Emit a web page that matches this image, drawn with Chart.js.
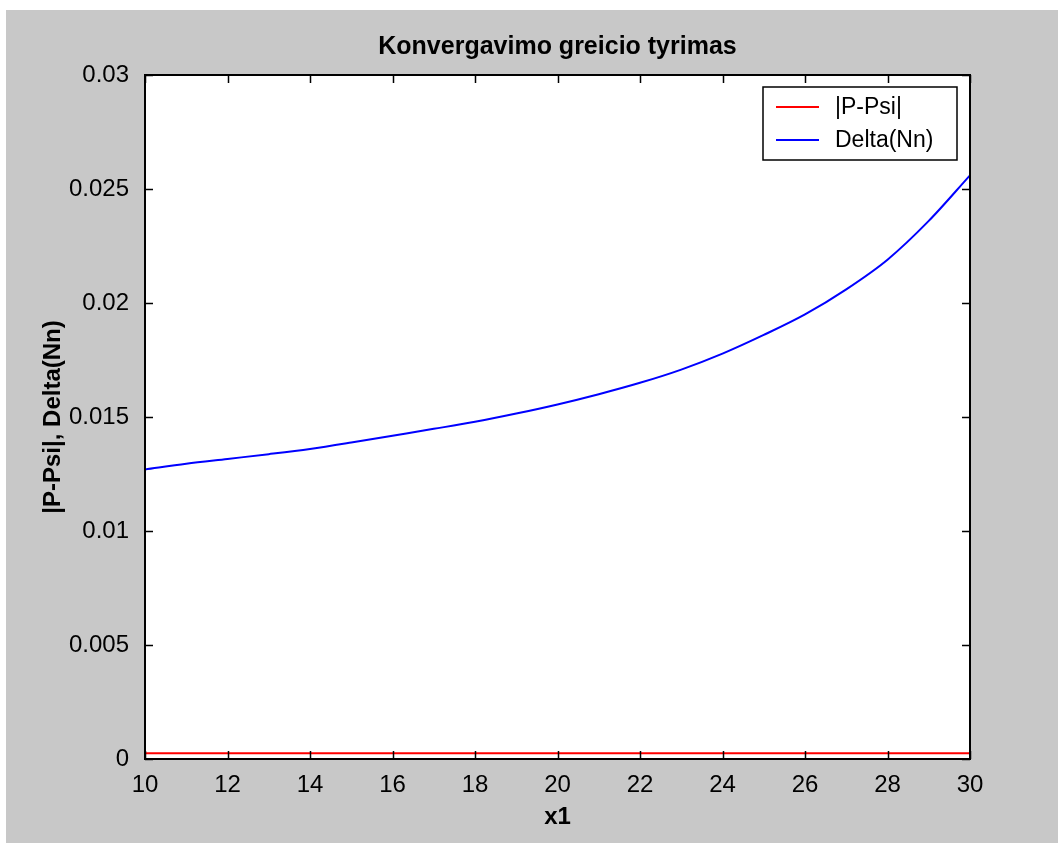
<!DOCTYPE html>
<html>
<head>
<meta charset="utf-8">
<script src="https://cdn.jsdelivr.net/npm/chart.js@4/dist/chart.umd.min.js"></script>
<style>
  html, body { margin: 0; padding: 0; background: #ffffff; }
  #wrap { position: absolute; left: 6px; top: 10px; width: 1052px; height: 833px; background: #c8c8c8; }
  canvas { display: block; }
</style>
</head>
<body>
<div id="wrap"><canvas id="c" width="1052" height="833"></canvas></div>
<script>
const chartTitle = "Konvergavimo greicio tyrimas";
const xAxisTitle = "x1";
const yAxisTitle = "|P-Psi|, Delta(Nn)";
const seriesLabels = ["|P-Psi|", "Delta(Nn)"];
const xValues = [10, 11, 12, 13, 14, 15, 16, 17, 18, 19, 20, 21, 22, 23, 24, 25, 26, 27, 28, 29, 30];
const diffValues = [0.00025, 0.00025, 0.00025, 0.00025, 0.00025, 0.00025, 0.00025, 0.00025, 0.00025, 0.00025, 0.00025,
                    0.00025, 0.00025, 0.00025, 0.00025, 0.00025, 0.00025, 0.00025, 0.00025, 0.00025, 0.00025];
const deltaValues = [0.0127, 0.01295, 0.01316, 0.01337, 0.0136, 0.01388, 0.01418, 0.01448, 0.01479, 0.01515, 0.01555,
                     0.01600, 0.01650, 0.01708, 0.01778, 0.01860, 0.01950, 0.02060, 0.02190, 0.02360, 0.02560];
const xTickLabels = ["10", "12", "14", "16", "18", "20", "22", "24", "26", "28", "30"];
const yTickLabels = ["0", "0.005", "0.01", "0.015", "0.02", "0.025", "0.03"];
const seriesColors = ["#ff0000", "#0000ff"];

const tickFont = { family: "'Liberation Sans', Arial, sans-serif", size: 24 };
const boldFont = { family: "'Liberation Sans', Arial, sans-serif", size: 24, weight: "bold" };

const toPoints = (ys) => xValues.map((x, i) => ({ x: x, y: ys[i] }));

const matlabBox = {
  id: "matlabBox",
  beforeDatasetsDraw(chart) {
    const { ctx, chartArea: a } = chart;
    ctx.save();
    ctx.fillStyle = "#ffffff";
    ctx.fillRect(a.left, a.top, a.right - a.left, a.bottom - a.top);
    ctx.restore();
  },
  afterDatasetsDraw(chart) {
    const { ctx, chartArea: a, scales } = chart;
    ctx.save();
    ctx.strokeStyle = "#000";
    ctx.lineWidth = 1.5;
    const tl = 8;
    ctx.beginPath();
    scales.x.ticks.forEach(t => {
      const px = Math.round(scales.x.getPixelForValue(t.value)) + 0.5;
      ctx.moveTo(px, a.bottom); ctx.lineTo(px, a.bottom - tl);
      ctx.moveTo(px, a.top); ctx.lineTo(px, a.top + tl);
    });
    scales.y.ticks.forEach(t => {
      const py = Math.round(scales.y.getPixelForValue(t.value)) + 0.5;
      ctx.moveTo(a.left, py); ctx.lineTo(a.left + tl, py);
      ctx.moveTo(a.right, py); ctx.lineTo(a.right - tl, py);
    });
    ctx.stroke();
    ctx.lineWidth = 2;
    ctx.strokeRect(a.left, a.top, a.right - a.left, a.bottom - a.top);

    // legend
    const lx = a.right - 207, ly = a.top + 12, lw = 194, lh = 73;
    ctx.fillStyle = "#fff";
    ctx.fillRect(lx, ly, lw, lh);
    ctx.lineWidth = 1.5;
    ctx.strokeRect(lx, ly, lw, lh);
    ctx.font = "23px 'Liberation Sans', Arial, sans-serif";
    ctx.textBaseline = "middle";
    chart.data.datasets.forEach((ds, i) => {
      const yy = ly + 20 + i * 33;
      ctx.strokeStyle = ds.borderColor;
      ctx.lineWidth = 2;
      ctx.beginPath();
      ctx.moveTo(lx + 13, yy); ctx.lineTo(lx + 56, yy);
      ctx.stroke();
      ctx.fillStyle = "#000";
      ctx.fillText(ds.label, lx + 72, yy + 1);
    });
    ctx.restore();
  }
};

new Chart(document.getElementById("c"), {
  type: "line",
  data: {
    datasets: [
      { label: seriesLabels[0], data: toPoints(diffValues), borderColor: seriesColors[0], borderWidth: 2, pointRadius: 0, tension: 0, fill: false },
      { label: seriesLabels[1], data: toPoints(deltaValues), borderColor: seriesColors[1], borderWidth: 2, pointRadius: 0, cubicInterpolationMode: "monotone", fill: false }
    ]
  },
  options: {
    responsive: false,
    animation: false,
    layout: { padding: { left: 0, right: 88, top: 0, bottom: 0 } },
    plugins: {
      legend: { display: false },
      tooltip: { enabled: false },
      title: {
        display: true,
        text: chartTitle,
        fullSize: false,
        color: "#000",
        font: { family: "'Liberation Sans', Arial, sans-serif", size: 25, weight: "bold" },
        padding: { top: 22, bottom: 13 }
      }
    },
    scales: {
      x: {
        type: "linear",
        min: 10, max: 30,
        grid: { display: false },
        border: { display: false },
        ticks: {
          stepSize: 2,
          padding: 4,
          color: "#000",
          font: tickFont,
          maxRotation: 0,
          callback: (v, i) => xTickLabels[i]
        },
        title: { display: true, text: xAxisTitle, color: "#000", font: boldFont, padding: { top: 0, bottom: 11 } },
        afterFit: (s) => { s.height = 84; }
      },
      y: {
        min: 0, max: 0.03,
        grid: { display: false },
        border: { display: false },
        ticks: {
          stepSize: 0.005,
          padding: 8,
          color: "#000",
          font: tickFont,
          callback: (v, i) => yTickLabels[i]
        },
        title: { display: true, text: yAxisTitle, color: "#000", font: boldFont, padding: { top: 32.6, bottom: 0 } },
        afterFit: (s) => { s.width = 139; }
      }
    }
  },
  plugins: [matlabBox]
});
</script>
</body>
</html>
